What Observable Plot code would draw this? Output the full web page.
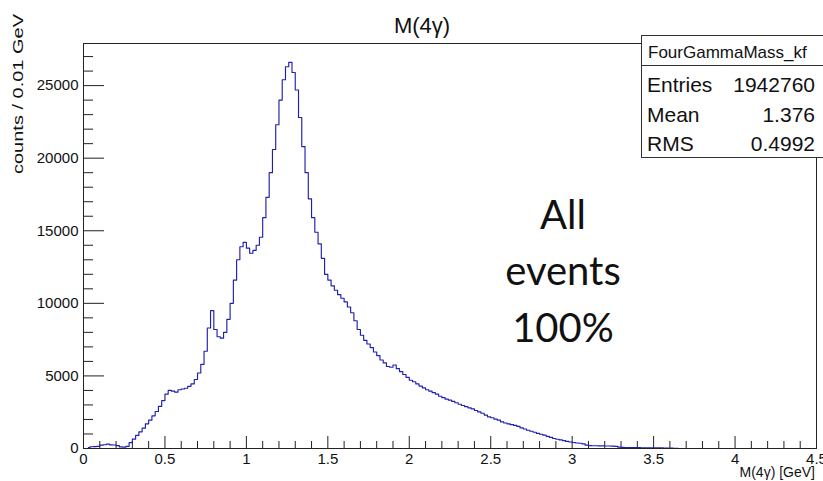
<!DOCTYPE html>
<html><head><meta charset="utf-8">
<script src="https://cdn.jsdelivr.net/npm/d3@7"></script>
<script src="https://cdn.jsdelivr.net/npm/@observablehq/plot@0.6"></script>
<style>
html,body{margin:0;padding:0;background:#fff;}
#chart{position:relative;width:823px;height:481px;overflow:hidden;}
</style></head><body><div id="chart"></div>
<script>
// histogram binning (GeV) and counts
const binLow = 0.02;
const binWidth = 0.02;
const counts = [
  60,120,130,150,230,260,300,250,240,200,
  110,90,150,400,650,900,1150,1400,1700,1950,
  2250,2550,2900,3300,3750,4000,3950,3880,4050,4100,
  4150,4280,4450,4750,5200,5800,6700,8300,9500,8200,
  7700,7600,8000,8900,10000,11600,13000,13900,14200,13800,
  13450,13650,14000,14550,15900,17300,19000,20600,22300,24000,
  25400,26300,26600,25900,24700,22800,20800,19000,17200,15900,
  14900,14100,13100,12000,11600,11200,10900,10600,10350,10100,
  9750,9350,8800,8200,7800,7450,7200,6950,6650,6400,
  6100,5900,5650,5600,5750,5500,5300,5100,4900,4700,
  4600,4450,4300,4180,4050,3950,3850,3750,3600,3500,
  3400,3330,3250,3150,3050,2960,2880,2800,2730,2620,
  2520,2430,2300,2180,2120,2020,1950,1830,1760,1700,
  1640,1590,1520,1420,1340,1260,1190,1120,1040,980,
  920,840,770,690,640,590,540,490,450,410,
  380,360,320,230,200,190,190,180,180,170,
  170,160,150,90,80,70,70,60,60,60,
  50,50,50,40,40,40,40,30,30,30,
  20,20
];
const xTickValues = [0,0.5,1,1.5,2,2.5,3,3.5,4,4.5];
const xTickLabels = ["0","0.5","1","1.5","2","2.5","3","3.5","4","4.5"];
const xMinorTicks = [0.1,0.2,0.3,0.4,0.6,0.7,0.8,0.9,1.1,1.2,1.3,1.4,1.6,1.7,1.8,1.9,2.1,2.2,2.3,2.4,2.6,2.7,2.8,2.9,3.1,3.2,3.3,3.4,3.6,3.7,3.8,3.9,4.1,4.2,4.3,4.4];
const yTickValues = [0,5000,10000,15000,20000,25000];
const yTickLabels = ["0","5000","10000","15000","20000","25000"];
const yMinorTicks = [1000,2000,3000,4000,6000,7000,8000,9000,11000,12000,13000,14000,16000,17000,18000,19000,21000,22000,23000,24000,26000,27000];
const titleText = "M(4γ)";
const xTitle = "M(4γ) [GeV]";
const yTitle = "counts / 0.01 GeV";
const statsTitle = "FourGammaMass_kf";
const statsNames = ["Entries","Mean","RMS"];
const statsValues = ["1942760","1.376","0.4992"];
const noteLines = ["All","events","100%"];

const hist = counts.map((c, i) => ({mass: binLow + (i + 0.5) * binWidth, count: c}));

const W = 823, H = 481, mL = 83, mR = 7, mT = 43, mB = 33;
const plotW = W - mL - mR, plotH = H - mT - mB;

const chart = Plot.plot({
  width: W, height: H,
  marginLeft: mL, marginRight: mR, marginTop: mT, marginBottom: mB,
  style: {fontFamily: "'Liberation Sans', Arial, sans-serif", fontSize: "15px", color: "#111", background: "#fff"},
  x: {domain: [0, 4.5]},
  y: {domain: [0, 27900]},
  marks: [
    Plot.tickY(yMinorTicks, {y: d => d, insetRight: plotW - 10, stroke: "#222"}),
    Plot.tickY(yTickValues, {y: d => d, insetRight: plotW - 21, stroke: "#222"}),
    Plot.tickX(xMinorTicks, {x: d => d, insetTop: plotH - 7, stroke: "#222"}),
    Plot.tickX(xTickValues, {x: d => d, insetTop: plotH - 12, stroke: "#222"}),
    Plot.axisY({ticks: yTickValues, tickSize: 0, tickPadding: 5, tickFormat: d => yTickLabels[yTickValues.indexOf(d)], label: null}),
    Plot.axisX({ticks: xTickValues, tickSize: 0, tickPadding: 5, tickFormat: d => xTickLabels[xTickValues.indexOf(d)], label: null}),
    Plot.line(hist, {x: "mass", y: "count", curve: "step", stroke: "#2020b0", strokeWidth: 1.15}),
    Plot.frame({stroke: "#222"})
  ]
});
document.getElementById("chart").appendChild(chart);

const svg = d3.select(chart);
svg.append("text").attr("x", 422).attr("y", 33).attr("text-anchor", "middle")
  .style("font-size", "22px").attr("fill", "#111").text(titleText);
svg.append("text").attr("transform", "translate(23,14) rotate(-90)").attr("text-anchor", "end")
  .attr("textLength", 160).attr("lengthAdjust", "spacingAndGlyphs")
  .style("font-size", "15px").attr("fill", "#111").text(yTitle);
svg.append("text").attr("x", 815).attr("y", 477).attr("text-anchor", "end")
  .style("font-size", "14px").attr("fill", "#111").text(xTitle);

// stats box
const sb = svg.append("g");
sb.append("rect").attr("x", 641.5).attr("y", 35.5).attr("width", 200).attr("height", 122)
  .attr("fill", "#fff").attr("stroke", "#333");
sb.append("line").attr("x1", 641.5).attr("x2", 841).attr("y1", 65.5).attr("y2", 65.5).attr("stroke", "#333");
sb.append("text").attr("x", 648).attr("y", 58).attr("text-anchor", "start")
  .style("font-size", "17px").attr("fill", "#111").text(statsTitle);
statsNames.forEach((n, i) => {
  const y = 92 + i * 29.5;
  sb.append("text").attr("x", 647).attr("y", y).attr("text-anchor", "start")
    .style("font-size", "21px").attr("fill", "#111").text(n);
  sb.append("text").attr("x", 815).attr("y", y).attr("text-anchor", "end")
    .style("font-size", "21px").attr("fill", "#111").text(statsValues[i]);
});

// annotation
const noteY = [229, 285, 342];
noteLines.forEach((t, i) => {
  svg.append("text").attr("x", 563).attr("y", noteY[i]).attr("text-anchor", "middle")
    .style("font-family", "Lato, 'Open Sans', sans-serif").style("font-size", "40px").attr("fill", "#111").text(t);
});
</script>
</body></html>
